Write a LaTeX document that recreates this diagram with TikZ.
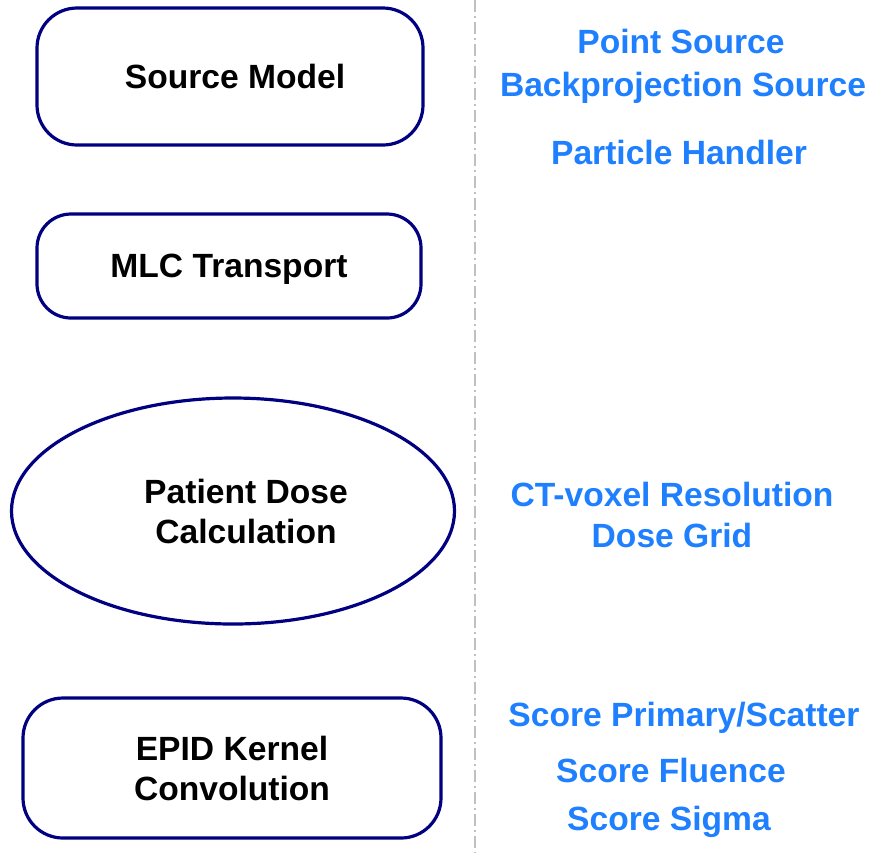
\documentclass[tikz,border=0pt]{standalone}
\usepackage{fontspec}
\setmainfont{Liberation Sans}
\usepackage{xcolor}
\usetikzlibrary{shapes.geometric, positioning}
\definecolor{boxblue}{RGB}{0,0,128}
\definecolor{itemblue}{RGB}{30,128,255}
\definecolor{sepgray}{RGB}{192,192,192}

\begin{document}
\begin{tikzpicture}[x=0.5pt, y=-0.5pt, font=\bfseries\fontsize{16.8}{20}\selectfont]
\tikzstyle{block} = [rectangle, draw=boxblue, line width=1.6pt, rounded corners=20pt, align=center, text depth=0pt]
\tikzstyle{oval} = [ellipse, draw=boxblue, line width=1.6pt, align=center, inner sep=0pt]
\tikzstyle{item} = [text=itemblue, inner sep=0pt]
\tikzstyle{sep} = [draw=sepgray, line width=1pt, dash pattern=on 6pt off 2pt on 1pt off 2pt]
\useasboundingbox (0,0) rectangle (871,853);
% left column
\node [block, minimum width=193pt, minimum height=68.5pt] (src) at (230,76.5) {\hspace*{5pt}Source Model};
\node [block, minimum width=192pt, minimum height=52pt, rounded corners=17pt] (mlc) at (229,266) {MLC Transport};
\node [oval, minimum width=221.5pt, minimum height=113pt] (pat) at (233,511) {\hspace*{13pt}Patient Dose\\\hspace*{13pt}Calculation};
\node [block, minimum width=209pt, minimum height=70pt] (epid) at (232,768) {EPID Kernel\\Convolution};
% separator
\coordinate (septop) at (475,0);
\coordinate (sepbot) at (475,853);
\path [sep] (septop) -- (sepbot);
% right column
\node [item] (pts) at (681,41) {Point Source};
\node [item] (bps) at (683,88) {Backprojection Source};
\node [item] (ph) at (679,152) {Particle Handler};
\node [item] (ct) at (672,494) {CT-voxel Resolution};
\node [item] (dg) at (672,535) {Dose Grid};
\node [item] (sps) at (684,718) {Score Primary/Scatter};
\node [item] (sf) at (671,770) {Score Fluence};
\node [item] (ss) at (669,822) {Score Sigma};
\end{tikzpicture}
\end{document}
